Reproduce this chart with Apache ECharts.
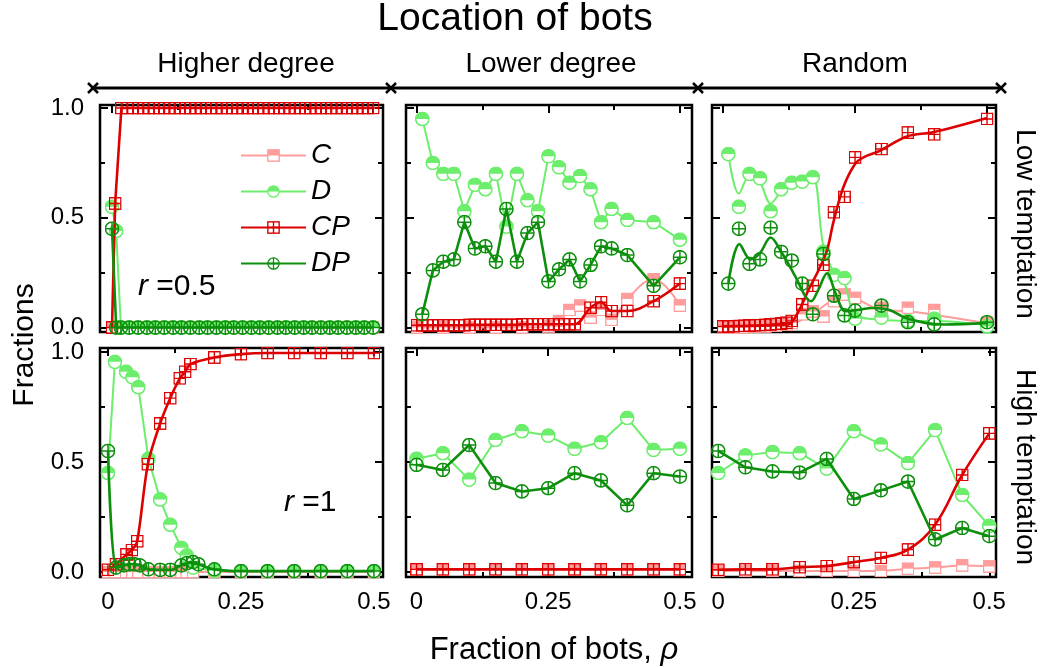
<!DOCTYPE html>
<html><head><meta charset="utf-8">
<script src="https://cdn.jsdelivr.net/npm/echarts@6/dist/echarts.min.js"></script>
<style>html,body{margin:0;padding:0;background:#fff}#c{width:1042px;height:667px}</style>
</head><body><div id="c"></div>
<script>
// ---------------- DATA ----------------
const seriesNames = ['C', 'D', 'CP', 'DP'];
const xTickValues = [0, 0.25, 0.5];
const xTickLabels = ['0', '0.25', '0.5'];
const xMinorTicks = [0.125, 0.375];
const yTickValues = [0, 0.5, 1];
const yTickLabels = ['0.0', '0.5', '1.0'];
const yMinorTicks = [0.25, 0.75];
const colTitles = ['Higher degree', 'Lower degree', 'Random'];
const rowTitles = ['Low temptation', 'High temptation'];

// Panel 1: higher degree, low temptation (r = 0.5)
const p1_xCP = [0,0.006,0.018,0.03,0.04,0.05,0.06,0.07,0.08,0.09,0.10,0.11,0.12,0.13,0.14,0.15,0.16,0.17,0.18,0.19,0.20,0.21,0.22,0.23,0.24,0.25,0.26,0.27,0.28,0.29,0.30,0.31,0.32,0.33,0.34,0.35,0.36,0.37,0.38,0.39,0.40,0.41,0.42,0.43,0.44,0.45,0.46,0.47,0.48,0.49,0.50];
const p1_CP = [0,0.565,1,1,1,1,1,1,1,1,1,1,1,1,1,1,1,1,1,1,1,1,1,1,1,1,1,1,1,1,1,1,1,1,1,1,1,1,1,1,1,1,1,1,1,1,1,1,1,1,1];
const p1_xD = [0,0.008,0.017,0.033,0.05,0.067,0.083,0.1,0.117,0.133,0.15,0.167,0.183,0.2,0.217,0.233,0.25,0.267,0.283,0.3,0.317,0.333,0.35,0.367,0.383,0.4,0.417,0.433,0.45,0.467,0.483,0.5];
const p1_D  = [0.55,0.44,0,0,0,0,0,0,0,0,0,0,0,0,0,0,0,0,0,0,0,0,0,0,0,0,0,0,0,0,0,0];
const p1_DP = [0.45,0,0,0,0,0,0,0,0,0,0,0,0,0,0,0,0,0,0,0,0,0,0,0,0,0,0,0,0,0,0,0];
const p1_C  = [0,0,0,0,0,0,0,0,0,0,0,0,0,0,0,0,0,0,0,0,0,0,0,0,0,0,0,0,0,0,0,0];

// Panel 2: lower degree, low temptation
const p2_xD = [0.01,0.03,0.05,0.07,0.09,0.11,0.13,0.15,0.17,0.19,0.21,0.23,0.25,0.27,0.29,0.31,0.33,0.35,0.37,0.40,0.45,0.50];
const p2_D  = [0.95,0.75,0.70,0.70,0.53,0.65,0.63,0.70,0.46,0.70,0.58,0.53,0.78,0.73,0.66,0.69,0.63,0.48,0.54,0.49,0.48,0.40];
const p2_DP = [0.06,0.26,0.30,0.31,0.48,0.36,0.37,0.30,0.54,0.30,0.43,0.48,0.21,0.265,0.31,0.21,0.285,0.37,0.36,0.33,0.19,0.32];
const p2_xCP = [0,0.01,0.02,0.03,0.04,0.05,0.06,0.07,0.08,0.09,0.10,0.11,0.12,0.13,0.14,0.15,0.16,0.17,0.18,0.19,0.20,0.21,0.22,0.23,0.24,0.25,0.26,0.27,0.28,0.29,0.30,0.33,0.35,0.37,0.40,0.45,0.50];
const p2_CP = [0.01,0.01,0.01,0.01,0.01,0.01,0.01,0.01,0.01,0.01,0.012,0.012,0.012,0.012,0.012,0.012,0.012,0.012,0.012,0.012,0.015,0.015,0.015,0.015,0.015,0.015,0.015,0.015,0.015,0.015,0.015,0.09,0.115,0.075,0.075,0.12,0.20];
const p2_xC = [0,0.05,0.10,0.15,0.20,0.25,0.27,0.29,0.31,0.33,0.35,0.37,0.40,0.45,0.50];
const p2_C  = [0,0,0,0,0,0.005,0.03,0.08,0.10,0.045,0.08,0.035,0.13,0.22,0.10];

// Panel 3: random, low temptation (points + fitted curves)
const p3_xD = [0.01,0.03,0.05,0.07,0.09,0.11,0.13,0.15,0.17,0.19,0.21,0.23,0.25,0.30,0.35,0.40,0.50];
const p3_D  = [0.79,0.55,0.70,0.68,0.53,0.63,0.66,0.665,0.685,0.345,0.24,0.225,0.04,0.045,0.03,0.04,0.005];
const p3_DP = [0.20,0.45,0.29,0.31,0.455,0.345,0.305,0.20,0.06,0.335,0.145,0.055,0.077,0.10,0.024,0.014,0.024];
const p3_xCP = [0,0.01,0.02,0.03,0.04,0.05,0.06,0.07,0.08,0.09,0.10,0.11,0.12,0.13,0.15,0.17,0.19,0.21,0.23,0.25,0.30,0.35,0.40,0.50];
const p3_CP = [0.005,0.005,0.006,0.007,0.008,0.009,0.01,0.011,0.012,0.014,0.016,0.018,0.022,0.03,0.105,0.19,0.285,0.525,0.595,0.775,0.813,0.888,0.88,0.95];
const p3_xC = [0,0.02,0.04,0.06,0.08,0.10,0.12,0.13,0.15,0.17,0.19,0.21,0.23,0.25,0.30,0.35,0.40,0.50];
const p3_C  = [0,0,0,0.003,0.005,0.008,0.012,0.02,0.06,0.073,0.05,0.12,0.15,0.135,0.09,0.09,0.08,0.022];
const p3_fitC_x  = [0,0.10,0.13,0.15,0.169,0.194,0.215,0.232,0.25,0.27,0.298,0.349,0.396,0.497];
const p3_fitC_y  = [0,0.005,0.015,0.036,0.059,0.104,0.135,0.149,0.135,0.11,0.081,0.074,0.059,0.021];
const p3_fitD_x  = [0.01,0.03,0.05,0.07,0.09,0.11,0.13,0.15,0.17,0.19,0.21,0.23,0.25,0.30,0.35,0.40,0.50];
const p3_fitD_y  = [0.79,0.61,0.69,0.66,0.565,0.62,0.655,0.665,0.685,0.37,0.25,0.2,0.06,0.035,0.03,0.03,0.01];
const p3_fitCP_x = [0,0.05,0.10,0.124,0.143,0.162,0.181,0.197,0.209,0.228,0.25,0.266,0.297,0.348,0.398,0.5];
const p3_fitCP_y = [0.005,0.007,0.01,0.014,0.074,0.172,0.262,0.353,0.48,0.64,0.745,0.775,0.805,0.87,0.89,0.955];
const p3_fitDP_x = [0.01,0.031,0.052,0.07,0.09,0.11,0.137,0.156,0.167,0.18,0.197,0.213,0.232,0.257,0.282,0.314,0.345,0.383,0.42,0.5];
const p3_fitDP_y = [0.20,0.38,0.31,0.34,0.41,0.345,0.232,0.142,0.12,0.17,0.247,0.157,0.074,0.081,0.089,0.081,0.044,0.021,0.014,0.021];

// Panel 4: higher degree, high temptation (r = 1)
const p4_xD = [0,0.013,0.034,0.046,0.057,0.076,0.098,0.117,0.138,0.148,0.16,0.2,0.25,0.3,0.35,0.4,0.45,0.5];
const p4_D  = [0.45,0.955,0.91,0.885,0.84,0.515,0.33,0.215,0.11,0.075,0.02,0.006,0.004,0.004,0.004,0.004,0.004,0.004];
const p4_C  = [0,0,0,0,0,0,0,0,0,0,0,0,0,0,0,0,0,0];
const p4_xDP = [0,0.015,0.03,0.04,0.05,0.06,0.076,0.098,0.117,0.138,0.148,0.16,0.17,0.2,0.25,0.3,0.35,0.4,0.45,0.5];
const p4_DP = [0.55,0.02,0.03,0.035,0.035,0.03,0.012,0.01,0.01,0.03,0.04,0.045,0.035,0.012,0.004,0.004,0.004,0.004,0.004,0.004];
const p4_xCP = [0,0.015,0.035,0.045,0.055,0.075,0.098,0.117,0.135,0.145,0.155,0.2,0.25,0.3,0.35,0.4,0.45,0.5];
const p4_CP = [0.01,0.035,0.08,0.10,0.14,0.49,0.675,0.79,0.88,0.91,0.945,0.975,0.99,0.995,0.995,0.995,0.995,0.995];

// Panel 5: lower degree, high temptation
const p5_x  = [0,0.05,0.10,0.15,0.20,0.25,0.30,0.35,0.40,0.45,0.50];
const p5_D  = [0.515,0.54,0.42,0.60,0.64,0.62,0.56,0.59,0.70,0.555,0.56];
const p5_DP = [0.487,0.464,0.577,0.404,0.366,0.381,0.449,0.416,0.303,0.449,0.434];
const p5_CP = [0.012,0.012,0.012,0.012,0.012,0.012,0.012,0.012,0.012,0.012,0.012];
const p5_C  = [0.012,0.012,0.012,0.012,0.012,0.012,0.012,0.012,0.012,0.012,0.012];

// Panel 6: random, high temptation
const p6_x  = [0,0.05,0.10,0.15,0.20,0.25,0.30,0.35,0.40,0.45,0.50];
const p6_D  = [0.45,0.53,0.545,0.54,0.47,0.64,0.58,0.495,0.645,0.35,0.21];
const p6_DP = [0.55,0.476,0.457,0.452,0.514,0.332,0.371,0.411,0.148,0.20,0.163];
const p6_CP = [0.01,0.012,0.012,0.022,0.027,0.045,0.064,0.102,0.215,0.441,0.63];
const p6_C  = [0.005,0.005,0.005,0.005,0.005,0.005,0.005,0.015,0.02,0.03,0.025];

// ---------------- STYLE ----------------
const FONT = "'Liberation Sans', Arial, Helvetica, sans-serif";
const COLORS = {C:'#ff9c9c', D:'#6cee6c', CP:'#dd0000', DP:'#0d8f0d'};
const LW = {C:2, D:2, CP:2.6, DP:2.6};
const SIZE = {C:13, D:15, CP:13, DP:15};
function uri(svg){ return 'image://data:image/svg+xml;charset=utf-8,' + encodeURIComponent(svg); }
const SV = '<svg xmlns="http://www.w3.org/2000/svg" width="24" height="24" viewBox="0 0 24 24">';
const SYM = {
  C: uri(SV + '<rect x="1.4" y="1.4" width="21.2" height="21.2" fill="#fff" stroke="'+COLORS.C+'" stroke-width="2.6"/><rect x="1.4" y="1.4" width="21.2" height="10.6" fill="'+COLORS.C+'"/></svg>'),
  D: uri(SV + '<circle cx="12" cy="12" r="10.6" fill="#fff" stroke="'+COLORS.D+'" stroke-width="2.5"/><path d="M1.4 12A10.6 10.6 0 0 1 22.6 12Z" fill="'+COLORS.D+'"/></svg>'),
  CP: uri(SV + '<rect x="1.4" y="1.4" width="21.2" height="21.2" fill="none" stroke="'+COLORS.CP+'" stroke-width="2.6"/><path d="M12 1.4V22.6M1.4 12H22.6" stroke="'+COLORS.CP+'" stroke-width="2.6"/></svg>'),
  DP: uri(SV + '<circle cx="12" cy="12" r="10.6" fill="none" stroke="'+COLORS.DP+'" stroke-width="2.4"/><path d="M12 1.4V22.6M1.4 12H22.6" stroke="'+COLORS.DP+'" stroke-width="2.4"/></svg>')
};

const zip = (xs, ys) => xs.map((x, i) => [x, ys[i]]);

const panels = [
  {grid:{left:100, top:105, width:283, height:227}, x:[-0.023,0.519], y:[-0.0205,1.0137], xl:false, yl:true,
   S:{C:{x:p1_xD,y:p1_C}, D:{x:p1_xD,y:p1_D}, CP:{x:p1_xCP,y:p1_CP}, DP:{x:p1_xD,y:p1_DP}}},
  {grid:{left:406, top:105, width:286, height:227}, x:[-0.021,0.523], y:[-0.0205,1.0137], xl:false, yl:false,
   S:{C:{x:p2_xC,y:p2_C,smooth:0.4}, D:{x:p2_xD,y:p2_D}, CP:{x:p2_xCP,y:p2_CP,smooth:0.4}, DP:{x:p2_xD,y:p2_DP}}},
  {grid:{left:712, top:105, width:284, height:227}, x:[-0.021,0.517], y:[-0.0205,1.0137], xl:false, yl:false,
   S:{C:{x:p3_xC,y:p3_C,fit:[p3_fitC_x,p3_fitC_y]}, D:{x:p3_xD,y:p3_D,fit:[p3_fitD_x,p3_fitD_y]},
      CP:{x:p3_xCP,y:p3_CP,fit:[p3_fitCP_x,p3_fitCP_y]}, DP:{x:p3_xD,y:p3_DP,fit:[p3_fitDP_x,p3_fitDP_y]}}},
  {grid:{left:100, top:348, width:283, height:229}, x:[-0.015,0.517], y:[-0.0227,1.018], xl:true, yl:true,
   S:{C:{x:p4_xD,y:p4_C}, D:{x:p4_xD,y:p4_D}, CP:{x:p4_xCP,y:p4_CP,smooth:0.3}, DP:{x:p4_xDP,y:p4_DP,smooth:0.3}}},
  {grid:{left:406, top:348, width:286, height:229}, x:[-0.020,0.523], y:[-0.0227,1.018], xl:true, yl:false,
   S:{C:{x:p5_x,y:p5_C}, D:{x:p5_x,y:p5_D}, CP:{x:p5_x,y:p5_CP}, DP:{x:p5_x,y:p5_DP}}},
  {grid:{left:712, top:348, width:284, height:229}, x:[-0.0116,0.5124], y:[-0.0227,1.018], xl:true, yl:false,
   S:{C:{x:p6_x,y:p6_C,smooth:0.4}, D:{x:p6_x,y:p6_D}, CP:{x:p6_x,y:p6_CP,smooth:0.4}, DP:{x:p6_x,y:p6_DP}}}
];

const lookup = (vals, labs) => v => { const i = vals.findIndex(t => Math.abs(t - v) < 1e-9); return i < 0 ? '' : labs[i]; };
const tickLine = {color:'#000', width:2};
const grids = [], xAxes = [], yAxes = [], series = [];

panels.forEach((p, i) => {
  grids.push(Object.assign({show:true, borderColor:'#000', borderWidth:2.5, backgroundColor:'transparent'}, p.grid));
  const xb = {gridIndex:i, type:'value', min:p.x[0], max:p.x[1], axisLine:{show:false, onZero:false}, splitLine:{show:false}};
  const yb = {gridIndex:i, type:'value', min:p.y[0], max:p.y[1], axisLine:{show:false, onZero:false}, splitLine:{show:false}};
  const xlab = {show:p.xl, customValues:xTickValues, formatter:lookup(xTickValues, xTickLabels), fontSize:24, fontFamily:FONT, color:'#000', margin:13};
  const ylab = {show:p.yl, customValues:yTickValues, formatter:lookup(yTickValues, yTickLabels), fontSize:24, fontFamily:FONT, color:'#000', margin:16};
  xAxes.push(Object.assign({}, xb, {position:'bottom', axisTick:{inside:true, length:8, customValues:xTickValues, lineStyle:tickLine}, axisLabel:xlab}));
  xAxes.push(Object.assign({}, xb, {position:'bottom', axisTick:{inside:true, length:5, customValues:xMinorTicks, lineStyle:tickLine}, axisLabel:{show:false}}));
  xAxes.push(Object.assign({}, xb, {position:'top', axisTick:{inside:true, length:8, customValues:xTickValues, lineStyle:tickLine}, axisLabel:{show:false}}));
  xAxes.push(Object.assign({}, xb, {position:'top', axisTick:{inside:true, length:5, customValues:xMinorTicks, lineStyle:tickLine}, axisLabel:{show:false}}));
  yAxes.push(Object.assign({}, yb, {position:'left', axisTick:{inside:true, length:8, customValues:yTickValues, lineStyle:tickLine}, axisLabel:ylab}));
  yAxes.push(Object.assign({}, yb, {position:'left', axisTick:{inside:true, length:5, customValues:yMinorTicks, lineStyle:tickLine}, axisLabel:{show:false}}));
  yAxes.push(Object.assign({}, yb, {position:'right', axisTick:{inside:true, length:8, customValues:yTickValues, lineStyle:tickLine}, axisLabel:{show:false}}));
  yAxes.push(Object.assign({}, yb, {position:'right', axisTick:{inside:true, length:5, customValues:yMinorTicks, lineStyle:tickLine}, axisLabel:{show:false}}));

  seriesNames.forEach((s, k) => {
    const d = p.S[s];
    if (d.fit) {
      series.push({type:'line', name:s + ' fit', xAxisIndex:4*i, yAxisIndex:4*i, data:zip(d.fit[0], d.fit[1]),
        showSymbol:false, symbol:'none', smooth:0.35, clip:false, silent:true, z:2+k,
        lineStyle:{color:COLORS[s], width:LW[s]}});
    }
    series.push({type:'line', name:s, xAxisIndex:4*i, yAxisIndex:4*i, data:zip(d.x, d.y),
      symbol:SYM[s], symbolSize:SIZE[s], showAllSymbol:true, smooth:d.smooth || false, clip:false, z:2+k,
      lineStyle:{color:COLORS[s], width:LW[s], opacity:d.fit ? 0 : 1}, itemStyle:{color:COLORS[s]}});
  });
});

// decorations: arrow bar under column titles
const arrowY = 88, arrowXs = [93, 391, 698, 1001];
const graphics = [];
graphics.push({type:'line', shape:{x1:arrowXs[0], y1:arrowY, x2:arrowXs[3], y2:arrowY}, style:{stroke:'#000', lineWidth:3}});
arrowXs.forEach(ax => {
  graphics.push({type:'line', shape:{x1:ax-5, y1:arrowY-5, x2:ax+5, y2:arrowY+5}, style:{stroke:'#000', lineWidth:2.5}});
  graphics.push({type:'line', shape:{x1:ax-5, y1:arrowY+5, x2:ax+5, y2:arrowY-5}, style:{stroke:'#000', lineWidth:2.5}});
});
const txt = (x, y, text, size, extra) => Object.assign({type:'text', x:x, y:y,
  style:{text:text, fontSize:size, fontFamily:FONT, fill:'#000', align:'center', verticalAlign:'middle',
         rich:{i:{fontStyle:'italic', fontSize:size, fontFamily:FONT}}}}, extra || {});
graphics.push(txt(515, 19, 'Location of bots', 39));
graphics.push(txt(246, 64, colTitles[0], 28));
graphics.push(txt(551, 64, colTitles[1], 28));
graphics.push(txt(855, 64, colTitles[2], 28));
graphics.push(txt(25, 345, 'Fractions', 30, {rotation:Math.PI/2}));
graphics.push(txt(554, 650, 'Fraction of bots, {i|ρ}', 31));
graphics.push(txt(1025, 224, rowTitles[0], 28, {rotation:-Math.PI/2}));
graphics.push(txt(1025, 467, rowTitles[1], 28, {rotation:-Math.PI/2}));
const rl = txt(138, 287, '{i|r} =0.5', 30); rl.style.align = 'left'; graphics.push(rl);
const rl2 = txt(284, 503, '{i|r} =1', 30); rl2.style.align = 'left'; graphics.push(rl2);

const chart = echarts.init(document.getElementById('c'), null, {renderer:'canvas'});
chart.setOption({
  animation:false,
  backgroundColor:'#fff',
  grid:grids, xAxis:xAxes, yAxis:yAxes, series:series,
  legend:{data:seriesNames, orient:'vertical', left:235, top:136, itemWidth:65, itemHeight:16, itemGap:7,
    selectedMode:false, textStyle:{fontSize:28, fontStyle:'italic', fontFamily:FONT, color:'#000', lineHeight:29}},
  graphic:graphics
});
</script></body></html>
